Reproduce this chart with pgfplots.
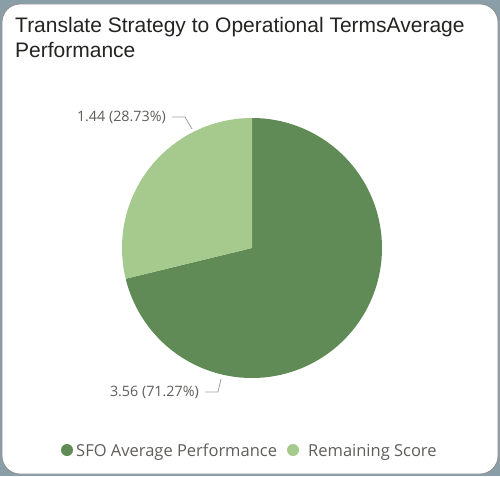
\documentclass[border=0pt]{standalone}
\usepackage{pgfplots}
\pgfplotsset{compat=1.18}
\usepackage{fontspec}
\setmainfont{Open Sans}
\newfontfamily\titlefont{Liberation Sans}
\definecolor{darkg}{HTML}{618B56}
\definecolor{lightg}{HTML}{A6C98E}
\definecolor{bgc}{HTML}{8A9EA8}
\definecolor{txt}{HTML}{252423}
\definecolor{lab}{HTML}{605E5C}
\definecolor{lead}{HTML}{A0A0A0}
\begin{document}
\begin{tikzpicture}
\begin{axis}[
  scale only axis, width=500pt, height=476pt,
  xmin=0, xmax=500, ymin=0, ymax=476, y dir=reverse,
  hide axis, clip=false, anchor=south west, at={(0,0)}]
% card
\fill[bgc] (axis cs:0,0) rectangle (axis cs:500,476);
\fill[white, draw=black!45, line width=0.8pt, rounded corners=18pt] (axis cs:2,4) rectangle (axis cs:498,474);
% data
\pgfmathsetmacro{\va}{3.56}
\pgfmathsetmacro{\vb}{1.44}
\pgfmathsetmacro{\astart}{90-360*\va/(\va+\vb)}
\pgfmathsetmacro{\bend}{\astart+360}
\addplot[fill=darkg, draw=none, domain=\astart:90, samples=180] ({252+130*cos(x)},{248-130*sin(x)}) -- (axis cs:252,248) -- cycle;
\addplot[fill=lightg, draw=none, domain=90:\bend, samples=90] ({252+130*cos(x)},{248-130*sin(x)}) -- (axis cs:252,248) -- cycle;
% leader lines
\draw[lead, line width=0.8pt] (axis cs:172,117) -- (axis cs:185,117) -- (axis cs:192,129);
\draw[lead, line width=0.8pt] (axis cs:205,392) -- (axis cs:218,392) -- (axis cs:221,379);
\node[anchor=east, text=lab, font=\fontsize{14.3}{16}\selectfont, inner sep=0pt] at (axis cs:166,117) {1.44 (28.73\%)};
\node[anchor=east, text=lab, font=\fontsize{14.3}{16}\selectfont, inner sep=0pt] at (axis cs:199,392) {3.56 (71.27\%)};
% title
\node[anchor=base west, text=txt, font=\titlefont\fontsize{21}{24}\selectfont, inner sep=0pt] at (axis cs:15,33) {Translate Strategy to Operational TermsAverage};
\node[anchor=base west, text=txt, font=\titlefont\fontsize{21}{24}\selectfont, inner sep=0pt] at (axis cs:15,58) {Performance};
% legend
\fill[darkg] (axis cs:67,450) circle (6pt);
\node[anchor=base west, text=lab, font=\fontsize{16.5}{18}\selectfont, inner sep=0pt] at (axis cs:76,456) {SFO Average Performance};
\fill[lightg] (axis cs:293,450) circle (6pt);
\node[anchor=base west, text=lab, font=\fontsize{16.5}{18}\selectfont, inner sep=0pt] at (axis cs:308,456) {Remaining Score};
\end{axis}
\end{tikzpicture}
\end{document}
